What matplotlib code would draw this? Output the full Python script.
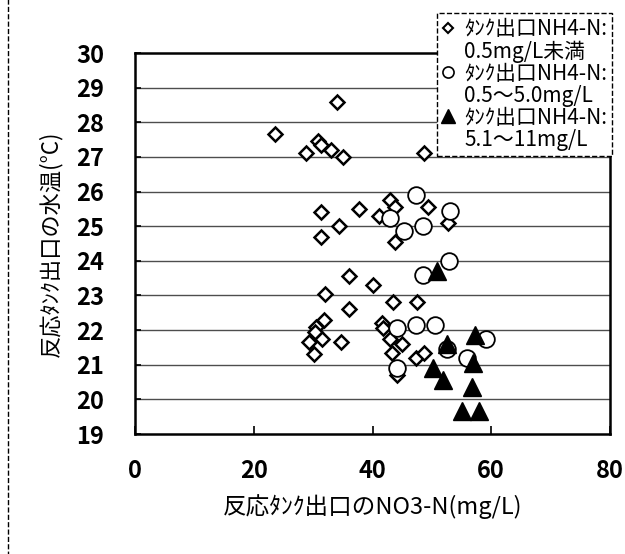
import matplotlib
matplotlib.use('Agg')
import matplotlib.pyplot as plt
from matplotlib.lines import Line2D
from matplotlib.patches import Rectangle

plt.rcParams['font.family'] = ['Noto Sans CJK JP', 'DejaVu Sans']

# NO3-N (mg/L) vs water temperature (C)
low_x = [34.0, 23.6, 28.8, 30.8, 31.3, 33.0, 35.0, 48.7, 31.3, 31.3,
         34.3, 37.8, 42.9, 43.8, 41.1, 43.8, 49.3, 52.7, 36.0, 40.1,
         32.0, 36.0, 31.8, 30.5, 30.3, 29.3, 31.5, 30.1, 34.7, 43.4,
         47.5, 41.6, 41.8, 42.9, 45.0, 43.3, 47.3, 48.7, 44.1]
low_y = [28.6, 27.65, 27.1, 27.45, 27.35, 27.2, 27.0, 27.1, 25.4, 24.7,
         25.0, 25.5, 25.75, 25.55, 25.3, 24.55, 25.55, 25.1, 23.55, 23.3,
         23.05, 22.6, 22.3, 22.1, 21.95, 21.65, 21.75, 21.3, 21.65, 22.8,
         22.8, 22.2, 22.05, 21.75, 21.6, 21.35, 21.2, 21.35, 20.7]

mid_x = [47.3, 42.9, 45.3, 48.5, 53.0, 52.9, 48.5, 44.1, 47.3, 50.5,
         44.1, 52.5, 59.1, 55.9]
mid_y = [25.9, 25.25, 24.85, 25.0, 25.45, 24.0, 23.6, 22.05, 22.15, 22.15,
         20.9, 21.45, 21.75, 21.2]

high_x = [50.8, 52.5, 57.2, 56.9, 50.2, 51.8, 56.7, 55.0, 58.0]
high_y = [23.7, 21.6, 21.85, 21.05, 20.9, 20.55, 20.35, 19.65, 19.65]

legend_lines = ['ﾀﾝｸ出口NH4-N:', '0.5mg/L未満',
                'ﾀﾝｸ出口NH4-N:', '0.5～5.0mg/L',
                'ﾀﾝｸ出口NH4-N:', '5.1～11mg/L']

x_ticks = [0, 20, 40, 60, 80]
y_ticks = list(range(19, 31))

fig = plt.figure(figsize=(6.25, 5.54), dpi=100)
ax = fig.add_axes([0.216, 0.2166, 0.76, 0.6877])

for t in y_ticks[1:-1]:
    ax.axhline(t, color='0.3', lw=1, zorder=1)

ax.plot(low_x, low_y, ls='none', marker='D', ms=7.6, mfc='white',
        mec='black', mew=1.8, zorder=3)
ax.plot(mid_x, mid_y, ls='none', marker='o', ms=12, mfc='white',
        mec='black', mew=1.3, zorder=4)
ax.plot(high_x, high_y, ls='none', marker='^', ms=13, mfc='black',
        mec='black', mew=1, zorder=5)

ax.set_xlim(0, 80)
ax.set_ylim(19, 30)
ax.set_xticks(x_ticks)
ax.set_yticks(y_ticks)
ax.tick_params(axis='x', direction='in', length=6, width=1.2, pad=18,
               labelsize=17)
ax.tick_params(axis='y', direction='in', length=4, width=1.2, pad=22,
               labelsize=17)
for lab in ax.get_xticklabels() + ax.get_yticklabels():
    lab.set_fontweight('bold')
for sp in ax.spines.values():
    sp.set_linewidth(1.8)

ax.set_xlabel('反応ﾀﾝｸ出口のNO3-N(mg/L)', fontsize=17, labelpad=8)
ax.set_ylabel('反応ﾀﾝｸ出口の水温(°C)', fontsize=16, labelpad=10)

blank = Line2D([], [], ls='none', marker='none')
handles = [
    Line2D([], [], ls='none', marker='D', ms=5, mfc='white', mec='black', mew=1.5),
    blank,
    Line2D([], [], ls='none', marker='o', ms=8, mfc='white', mec='black', mew=1.2),
    blank,
    Line2D([], [], ls='none', marker='^', ms=10, mfc='black', mec='black'),
    blank,
]
leg = fig.legend(handles, legend_lines, loc='upper left',
                 bbox_to_anchor=(437 / 625, 1 - 13 / 554), fontsize=15,
                 handlelength=0.6, handletextpad=0.45, labelspacing=0.0,
                 borderpad=0.25, borderaxespad=0, fancybox=False,
                 framealpha=1, edgecolor='black')
leg.get_frame().set_linestyle('--')
leg.get_frame().set_linewidth(1)

fig.patches.append(Rectangle((8 / 625, -0.1), 1.2, 1.1 + (1 - 12 / 554),
                             transform=fig.transFigure, fill=False,
                             ls='--', lw=1, ec='black', zorder=0))

fig.savefig('out.png', dpi=100)
